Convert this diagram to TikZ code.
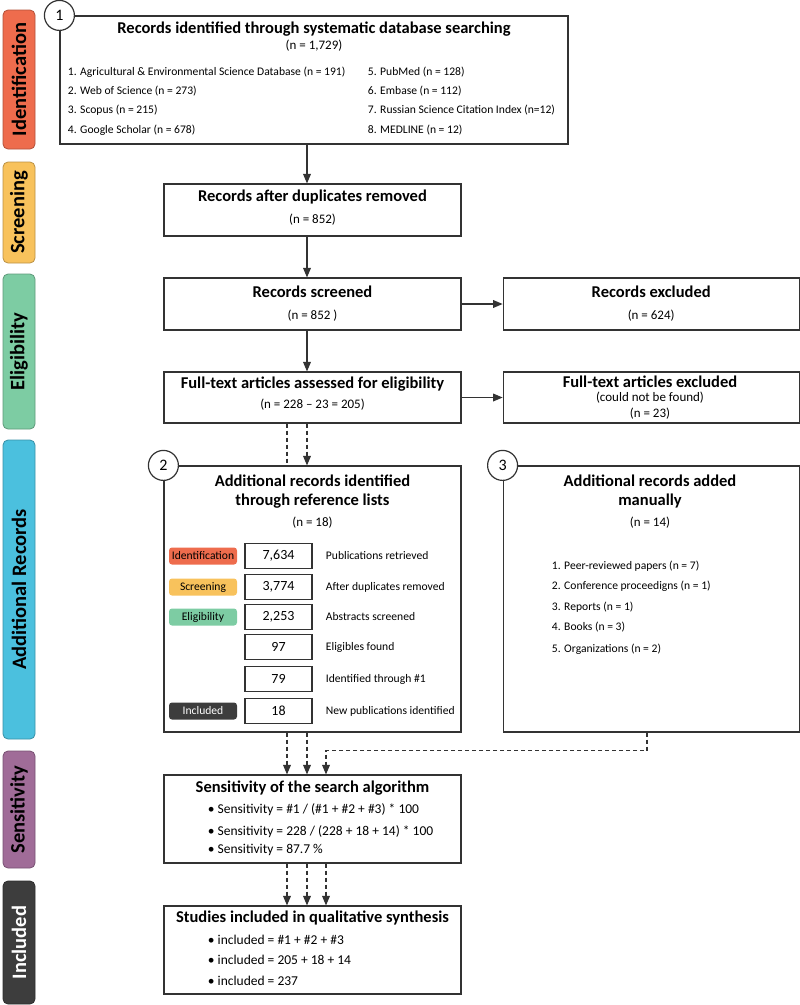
\documentclass[tikz,border=0pt]{standalone}
\usepackage{fontspec}
\setmainfont{Carlito}
\usetikzlibrary{arrows,shapes,positioning}
\tikzset{arrows={-triangle 45}}
\definecolor{identcol}{HTML}{EE6C4D}
\definecolor{screencol}{HTML}{F8C25C}
\definecolor{eligcol}{HTML}{7DCCA3}
\definecolor{addcol}{HTML}{4BC0DE}
\definecolor{senscol}{HTML}{A06C98}
\definecolor{inclcol}{HTML}{3D3D3D}
\newcommand\hdr{\fontsize{16.5}{19}\selectfont\bfseries}
\newcommand\sml{\fontsize{11.6}{13}\selectfont}
\newcommand\cnt{\fontsize{13}{15}\selectfont}

\begin{document}
\begin{tikzpicture}[x=1pt, y=-1pt, line width=1.2pt, draw=black!80,
    box/.style={draw, rectangle, minimum width=297pt, inner sep=0pt},
    phase/.style={draw=#1!75!black, fill=#1, rounded corners=5pt, rotate=90, line width=0.8pt,
      minimum height=32pt, inner sep=0pt, font=\fontsize{20.5}{22}\selectfont\bfseries},
    tag/.style={fill=#1, rounded corners=3pt, minimum width=68pt, minimum height=17pt,
      inner sep=0pt, font=\sml},
    numbox/.style={draw, minimum width=67pt, minimum height=25pt, inner sep=0pt,
      font=\fontsize{14}{16}\selectfont},
    num/.style={draw, circle, fill=white, minimum size=30pt, inner sep=0pt,
      font=\fontsize{16}{18}\selectfont},
    bullet/.style={anchor=west, font=\fontsize{13.5}{15}\selectfont},
    flow/.style={dashed, dash pattern=on 4pt off 3pt}]
  \useasboundingbox (0,0) rectangle (800,1005);

  % phase bars on the left
  \node[phase=identcol, minimum width=139pt] (barid) at (19,79.5) {Identification};
  \node[phase=screencol, minimum width=101pt] (barscr) at (19,212.5) {Screening};
  \node[phase=eligcol, minimum width=155pt] (barelig) at (19,351.5) {Eligibility};
  \node[phase=addcol, minimum width=299pt] (baradd) at (19,589.5) {Additional Records};
  \node[phase=senscol, minimum width=117pt] (barsens) at (19,809.5) {Sensitivity};
  \node[phase=inclcol, minimum width=123pt, text=white] (barincl) at (19,942.5) {Included};

  % x positions of the connectors
  \coordinate (la) at (287,0);
  \coordinate (lb) at (307,0);
  \coordinate (lc) at (326,0);
  \coordinate (lr) at (647,0);

  % database search
  \node[box, minimum width=508pt, minimum height=128pt] (idbox) at (314,80) {};
  \node (idtitle) at (314,29) {\hdr Records identified through systematic database searching};
  \node (idn) at (314,46) {\cnt (n = 1,729)};
  \foreach \y/\txt [count=\i] in {72/{1. Agricultural \& Environmental Science Database (n = 191)},
      91/{2. Web of Science (n = 273)}, 110/{3. Scopus (n = 215)}, 130/{4. Google Scholar (n = 678)}}
    \node[anchor=west, font=\sml] (dbl\i) at (64,\y) {\txt};
  \foreach \y/\txt [count=\i] in {72/{5. PubMed (n = 128)}, 91/{6. Embase (n = 112)},
      110/{7. Russian Science Citation Index (n=12)}, 130/{8. MEDLINE (n = 12)}}
    \node[anchor=west, font=\sml] (dbr\i) at (364,\y) {\txt};
  \node[num] (c1) at (idbox.north west) {1};

  % screening and eligibility
  \node[box, minimum height=52pt] (dupbox) at (312.5,210) {};
  \node (duptitle) at (312.5,197) {\hdr Records after duplicates removed};
  \node (dupn) at (312.5,220) {\cnt (n = 852)};

  \node[box, minimum height=52pt] (scrbox) at (312.5,304) {};
  \node (scrtitle) at (312.5,292) {\hdr Records screened};
  \node (scrn) at (312.5,316) {\cnt (n = 852 )};
  \node[box, minimum width=296pt, minimum height=52pt] (exbox) [right=41pt of scrbox] {};
  \node (extitle) at (exbox.center |- scrtitle) {\hdr Records excluded};
  \node (exn) at (exbox.center |- scrn) {\cnt (n = 624)};

  \node[box, minimum height=51pt] (ftbox) at (312.5,397.5) {};
  \node (fttitle) at (312.5,384) {\hdr Full-text articles assessed for eligibility};
  \node (ftn) at (312.5,405) {\cnt (n = 228 -- 23 = 205)};
  \node[box, minimum width=296pt, minimum height=51pt] (ftexbox) [right=41pt of ftbox] {};
  \node (ftextitle) at (650,382) {\hdr Full-text articles excluded};
  \node (ftexwhy) at (650,398) {\cnt (could not be found)};
  \node (ftexn) at (650,414) {\cnt (n = 23)};

  % additional records
  \node[box, minimum height=266pt] (refbox) at (312.5,599) {};
  \node[align=center, font=\hdr] (reftitle) at (312.5,491.5) {Additional records identified\\through reference lists};
  \node (refn) at (312.5,523) {\cnt (n = 18)};
  \foreach \y/\val/\txt [count=\i] in {556/{7,634}/Publications retrieved, 587/{3,774}/After duplicates removed,
      617/{2,253}/Abstracts screened, 647/97/Eligibles found, 679/79/Identified through \#1,
      711/18/New publications identified} {
    \node[numbox] (val\i) at (278.5,\y) {\val};
    \node[anchor=west, font=\sml] (step\i) at (322,\y) {\txt};
  }
  \node[tag=identcol] (tagid) at (203,556) {Identification};
  \node[tag=screencol] (tagscr) at (203,587) {Screening};
  \node[tag=eligcol] (tagelig) at (203,617) {Eligibility};
  \node[tag=inclcol, text=white] (tagincl) at (203,711) {Included};
  \node[num] (c2) at (refbox.north west) {2};

  \node[box, minimum width=296pt, minimum height=266pt] (manbox) [right=41pt of refbox] {};
  \node[align=center, font=\hdr] (mantitle) at (650,491.5) {Additional records added\\manually};
  \node (mann) at (650,523) {\cnt (n = 14)};
  \foreach \y/\txt [count=\i] in {566/{1. Peer-reviewed papers (n = 7)}, 586/{2. Conference proceedigns (n = 1)},
      607/{3. Reports (n = 1)}, 627/{4. Books (n = 3)}, 649/{5. Organizations (n = 2)}}
    \node[anchor=west, font=\sml] (kind\i) at (548,\y) {\txt};
  \node[num] (c3) at (manbox.north west) {3};

  % sensitivity and inclusion
  \node[box, minimum height=88pt] (sensbox) at (312.5,819) {};
  \node (senstitle) at (312.5,788) {\hdr Sensitivity of the search algorithm};
  \foreach \y/\txt [count=\i] in {810/{Sensitivity = \#1 / (\#1 + \#2 + \#3) * 100},
      832/{Sensitivity = 228 / (228 + 18 + 14) * 100}, 850/{Sensitivity = 87.7 \%}}
    \node[bullet] (sens\i) at (204,\y) {\textbullet\ \txt};

  \node[box, minimum height=88pt] (inclbox) at (312.5,950) {};
  \node (incltitle) at (312.5,918) {\hdr Studies included in qualitative synthesis};
  \foreach \y/\txt [count=\i] in {940/{included = \#1 + \#2 + \#3}, 960/{included = 205 + 18 + 14},
      981/{included = 237}}
    \node[bullet] (incl\i) at (204,\y) {\textbullet\ \txt};

  % connectors
  \draw (idbox.south -| lb) -- (dupbox.north -| lb);
  \draw (dupbox.south -| lb) -- (scrbox.north -| lb);
  \draw (scrbox.south -| lb) -- (ftbox.north -| lb);
  \draw (scrbox) -- (exbox);
  \draw (ftbox) -- (ftexbox);
  \draw[flow, -] (ftbox.south -| la) -- (refbox.north -| la);
  \draw[flow] (ftbox.south -| lb) -- (refbox.north -| lb);
  \draw[flow] (refbox.south -| la) -- (sensbox.north -| la);
  \draw[flow] (refbox.south -| lb) -- (sensbox.north -| lb);
  \draw[flow] (manbox.south -| lr) -- ++(0,18) -| (sensbox.north -| lc);
  \foreach \l in {la,lb,lc}
    \draw[flow] (sensbox.south -| \l) -- (inclbox.north -| \l);
\end{tikzpicture}
\end{document}
